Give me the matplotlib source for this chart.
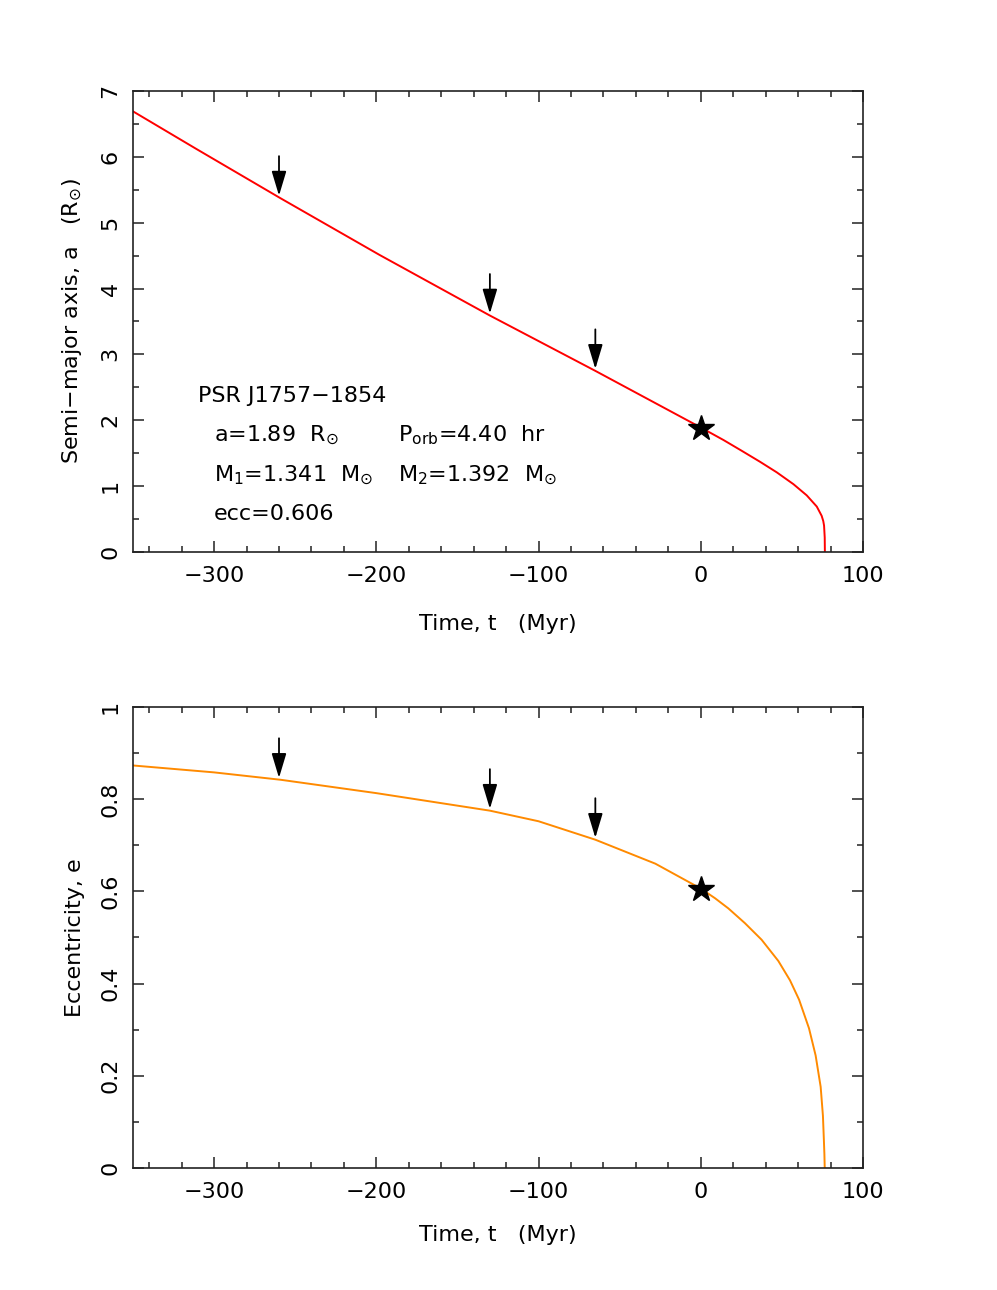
import matplotlib
matplotlib.use("Agg")
import matplotlib.pyplot as plt
from matplotlib.ticker import MultipleLocator, FuncFormatter

# semi-major axis history (Myr, R_sun)
t_a = [-350, -311, -259, -198, -130, -65, 0, 14, 25, 36.5, 46.8, 57.1, 65.3,
       71.5, 74.5, 75.5, 76.0, 76.4, 76.5]
a_vals = [6.69, 6.12, 5.37, 4.51, 3.59, 2.75, 1.89, 1.70, 1.54, 1.37, 1.21,
          1.03, 0.86, 0.69, 0.55, 0.47, 0.40, 0.22, 0.0]

# eccentricity history
t_e = [-350, -300, -259, -200, -130, -100, -65, -28, 0, 8.8, 17, 27.2, 37.5,
       47.8, 55, 60.6, 66.7, 70.8, 73.9, 75.3, 75.9, 76.2, 76.4]
e_vals = [0.873, 0.858, 0.842, 0.813, 0.775, 0.752, 0.712, 0.66, 0.606, 0.585,
          0.563, 0.531, 0.495, 0.449, 0.407, 0.365, 0.303, 0.244, 0.176, 0.113,
          0.059, 0.03, 0.0]

# arrows: time, curve value
arrow_t = [-260, -130, -65]
arrow_a = [5.39, 3.60, 2.76]
arrow_e = [0.842, 0.775, 0.712]

now_a = 1.89
now_e = 0.606

plt.rcParams['font.family'] = ['DejaVu Sans']
plt.rcParams['mathtext.fontset'] = 'dejavusans'
FS = 16

fig = plt.figure(figsize=(9.97, 12.9), dpi=100)
ax1 = fig.add_axes([0.1334, 0.5721, 0.7322, 0.3574])
ax2 = fig.add_axes([0.1334, 0.0946, 0.7322, 0.3574])

ARROW = '-|>,head_length=1.5,head_width=0.45'


def style(ax):
    ax.tick_params(which='both', direction='in', top=True, right=True,
                   labelsize=FS, color='#222222')
    ax.tick_params(which='major', length=8, width=1.1)
    ax.tick_params(which='minor', length=4.2, width=1.1)
    ax.tick_params(axis='x', pad=10)
    ax.tick_params(axis='y', pad=9, labelrotation=90)
    for s in ax.spines.values():
        s.set_linewidth(1.2)
        s.set_color('#222222')
    ax.xaxis.set_major_locator(MultipleLocator(100))
    ax.xaxis.set_minor_locator(MultipleLocator(20))
    ax.yaxis.set_major_formatter(FuncFormatter(lambda v, p: '%g' % v))
    for lab in ax.get_yticklabels():
        lab.set_va('center')


# top panel
ax1.plot(t_a, a_vals, color='#ff0000', lw=1.4)
ax1.plot(0, now_a, marker='*', color='black', ms=19, zorder=5)
for t, v in zip(arrow_t, arrow_a):
    ax1.annotate('', xy=(t, v + 0.02), xytext=(t, v + 0.62),
                 arrowprops=dict(arrowstyle=ARROW, color='black', lw=1.3,
                                 mutation_scale=10, shrinkA=0, shrinkB=0))
ax1.set_xlim(-350, 100)
ax1.set_ylim(0, 7)
ax1.yaxis.set_major_locator(MultipleLocator(1))
ax1.yaxis.set_minor_locator(MultipleLocator(0.5))
style(ax1)
ax1.set_xlabel('Time, t   (Myr)', fontsize=FS)
ax1.set_ylabel(r'Semi$-$major axis, a   (R$_{\odot}$)', fontsize=FS)
ax1.xaxis.set_label_coords(0.5, -0.156)
ax1.xaxis.label.set_va('center')
ax1.yaxis.set_label_coords(-0.0836, 0.5)
ax1.yaxis.label.set_va('center')

ax1.text(-310, 2.282, 'PSR J1757\u22121854', fontsize=FS, va='baseline')
ax1.text(-300, 1.675, r'a=1.89  R$_{\odot}$', fontsize=FS, va='baseline')
ax1.text(-186.6, 1.675, r'P$_{\rm orb}$=4.40  hr', fontsize=FS, va='baseline')
ax1.text(-300, 1.078, r'M$_1$=1.341  M$_{\odot}$', fontsize=FS, va='baseline')
ax1.text(-186.6, 1.078, r'M$_2$=1.392  M$_{\odot}$', fontsize=FS, va='baseline')
ax1.text(-300, 0.486, 'ecc=0.606', fontsize=FS, va='baseline')

# bottom panel
ax2.plot(t_e, e_vals, color='#ff8a00', lw=1.4)
ax2.plot(0, now_e, marker='*', color='black', ms=19, zorder=5)
for t, v in zip(arrow_t, arrow_e):
    ax2.annotate('', xy=(t, v + 0.004), xytext=(t, v + 0.09),
                 arrowprops=dict(arrowstyle=ARROW, color='black', lw=1.3,
                                 mutation_scale=10, shrinkA=0, shrinkB=0))
ax2.set_xlim(-350, 100)
ax2.set_ylim(0, 1)
ax2.yaxis.set_major_locator(MultipleLocator(0.2))
ax2.yaxis.set_minor_locator(MultipleLocator(0.1))
style(ax2)
ax2.set_xlabel('Time, t   (Myr)', fontsize=FS)
ax2.set_ylabel('Eccentricity, e', fontsize=FS)
ax2.xaxis.set_label_coords(0.5, -0.145)
ax2.xaxis.label.set_va('center')
ax2.yaxis.set_label_coords(-0.08, 0.5)
ax2.yaxis.label.set_va('center')

fig.savefig('out.png', dpi=100)
